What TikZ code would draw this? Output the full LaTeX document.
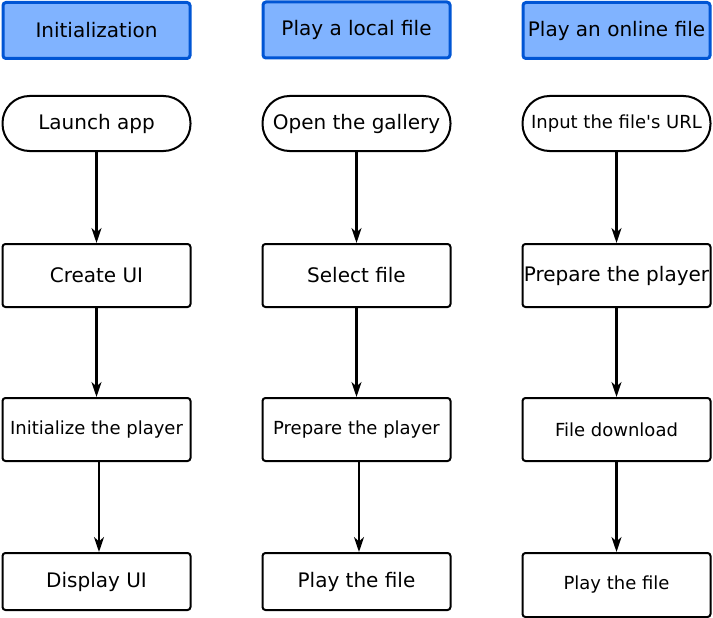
\documentclass[tikz,border=0pt]{standalone}
\usepackage{fontspec}
\setmainfont{DejaVu Sans}[Ligatures=TeXOff]
\usetikzlibrary{arrows.meta}
\definecolor{hfill}{RGB}{128,179,255}
\definecolor{hdraw}{RGB}{0,85,212}
\begin{document}
\begin{tikzpicture}[x=1pt,y=-1pt,
 big/.style={font=\fontsize{20}{24}\selectfont},
 small/.style={font=\fontsize{18}{22}\selectfont},
 hdr/.style={draw=hdraw,fill=hfill,line width=3pt,rounded corners=3pt,minimum width=187pt,minimum height=56pt,inner sep=0pt,big},
 term/.style={draw,line width=2pt,rounded corners=27pt,minimum width=188pt,minimum height=55pt,inner sep=0pt,big},
 box/.style={draw,line width=2pt,rounded corners=3pt,minimum width=188pt,minimum height=63pt,inner sep=0pt,big},
 arr/.style={-{Stealth[length=15pt,width=10pt,inset=4.5pt]},line width=2.2pt}]
\useasboundingbox (0,0) rectangle (713,618);
% column 1
\node[hdr]  (h1) at (96.5,30.5) {Initialization};
\node[term] (t1) at (96.5,123.5) {Launch app\ };
\node[box]  (a1) at (96.5,275.5) {Create UI};
\node[box,small] (b1) at (96.5,429.5) {Initialize the player};
\node[box,minimum height=57pt] (c1) at (96.5,581.5) {Display UI};
% column 2
\node[hdr]  (h2) at (356.5,30) {Play a local file};
\node[term] (t2) at (356.5,123.5) {Open the gallery};
\node[box]  (a2) at (356.5,275.5) {Select file};
\node[box,small] (b2) at (356.5,429.5) {Prepare the player};
\node[box,minimum height=57pt] (c2) at (356.5,581.5) {Play the file};
% column 3
\node[hdr]  (h3) at (616.5,30.5) {Play an online file};
\node[term,small] (t3) at (616.5,123.5) {Input the file's URL};
\node[box]  (a3) at (616.5,275.5) {Prepare the player};
\node[box,small] (b3) at (616.5,429.5) {File download};
\node[box,small,minimum height=64pt] (c3) at (616.5,585) {Play the file};
% arrows
\draw[arr] (t1) -- (a1);
\draw[arr] (a1) -- (b1);
\draw[arr] ([xshift=2.5pt,yshift=2pt]b1.south) -- ([xshift=2.5pt]c1.north);
\draw[arr] (t2) -- (a2);
\draw[arr] (a2) -- (b2);
\draw[arr] ([xshift=2.5pt,yshift=2pt]b2.south) -- ([xshift=2.5pt]c2.north);
\draw[arr] (t3) -- (a3);
\draw[arr] (a3) -- (b3);
\draw[arr] (b3) -- (c3);
\end{tikzpicture}
\end{document}
